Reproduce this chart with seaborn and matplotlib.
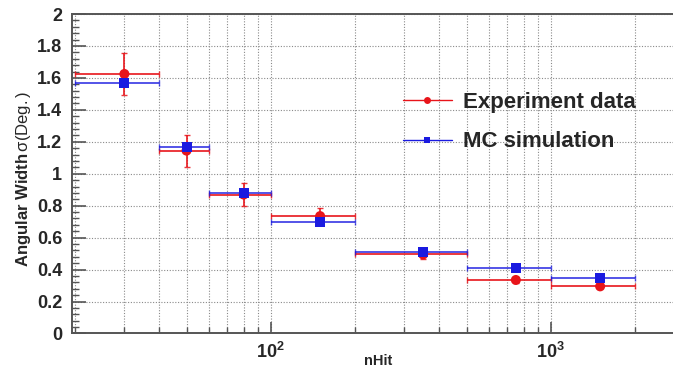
import numpy as np
import pandas as pd
import matplotlib
matplotlib.use("Agg")
import matplotlib.pyplot as plt
import seaborn as sns
from matplotlib.ticker import LogLocator, FixedLocator, FixedFormatter, AutoMinorLocator, NullFormatter
from matplotlib.lines import Line2D

# ---- data ----
bin_lo = [20, 40, 60, 100, 200, 500, 1000]
bin_hi = [40, 60, 100, 200, 500, 1000, 2000]
nhit = [30, 50, 80, 150, 350, 750, 1500]
exp_width = [1.625, 1.145, 0.87, 0.735, 0.495, 0.335, 0.295]
exp_err = [0.13, 0.10, 0.07, 0.05, 0.03, 0.02, 0.01]
mc_width = [1.57, 1.165, 0.88, 0.70, 0.51, 0.41, 0.35]
mc_err = [0.01, 0.01, 0.01, 0.01, 0.01, 0.01, 0.01]
series_names = ["Experiment data", "MC simulation"]
y_ticks = [0, 0.2, 0.4, 0.6, 0.8, 1, 1.2, 1.4, 1.6, 1.8, 2]
y_ticklabels = ["0", "0.2", "0.4", "0.6", "0.8", "1", "1.2", "1.4", "1.6", "1.8", "2"]
x_major = [100, 1000]
x_majorlabels = [r"$\mathbf{10^{2}}$", r"$\mathbf{10^{3}}$"]

df = pd.DataFrame({
    "nHit": nhit * 2,
    "width": exp_width + mc_width,
    "series": [series_names[0]] * len(nhit) + [series_names[1]] * len(nhit),
})

sns.set_theme(style="white")
plt.rcParams["font.family"] = ["Liberation Sans", "DejaVu Sans"]
plt.rcParams["mathtext.fontset"] = "custom"
plt.rcParams["mathtext.rm"] = "Liberation Sans"
plt.rcParams["mathtext.it"] = "Liberation Sans"
plt.rcParams["mathtext.bf"] = "Liberation Sans:bold"

fig = plt.figure(figsize=(6.73, 3.68), dpi=100)
ax = fig.add_axes([72 / 673, 0.0938, 0.910, 0.868])

red = "#e8141a"
blue = "#1a1ae0"

xerr_lo = np.array(nhit) - np.array(bin_lo)
xerr_hi = np.array(bin_hi) - np.array(nhit)

ax.errorbar(nhit, exp_width, xerr=[xerr_lo, xerr_hi], yerr=exp_err, fmt="none",
            ecolor=red, elinewidth=1.4, capsize=2.2, capthick=1.0, alpha=0.85, zorder=3)
ax.errorbar(nhit, mc_width, xerr=[xerr_lo, xerr_hi], yerr=mc_err, fmt="none",
            ecolor=blue, elinewidth=1.4, capsize=2.2, capthick=1.0, alpha=0.75, zorder=4)

sns.scatterplot(data=df, x="nHit", y="width", hue="series", style="series",
                hue_order=series_names, style_order=series_names,
                palette={series_names[0]: red, series_names[1]: blue},
                markers={series_names[0]: "o", series_names[1]: "s"},
                s=52, linewidth=0, legend=False, ax=ax, zorder=5)

ax.set_xscale("log")
ax.set_xlim(19.5, 3000)
ax.set_ylim(0, 2)

ax.xaxis.set_major_locator(FixedLocator(x_major))
ax.xaxis.set_major_formatter(FixedFormatter(x_majorlabels))
ax.xaxis.set_minor_locator(LogLocator(base=10, subs=np.arange(2, 10), numticks=20))
ax.xaxis.set_minor_formatter(NullFormatter())
ax.yaxis.set_major_locator(FixedLocator(y_ticks))
ax.yaxis.set_major_formatter(FixedFormatter(y_ticklabels))
ax.yaxis.set_minor_locator(AutoMinorLocator(5))

grid_kw = dict(color="#8a8a8a", linestyle=(0, (1, 1.5)), linewidth=0.8)
ax.grid(True, which="major", axis="both", **grid_kw)
ax.grid(True, which="minor", axis="x", **grid_kw)
ax.set_axisbelow(True)

for side in ["left", "bottom", "top"]:
    ax.spines[side].set_visible(True)
    ax.spines[side].set_color("#555555")
    ax.spines[side].set_linewidth(1.4)
ax.spines["right"].set_visible(False)

ax.tick_params(axis="y", which="major", direction="in", length=10, width=1.2, color="#555555",
               left=True, labelsize=13, pad=7)
ax.tick_params(axis="y", which="minor", direction="in", length=5, width=1.0, color="#555555", left=True)
ax.tick_params(axis="x", which="major", direction="in", length=8, width=1.2, color="#555555",
               bottom=True, labelsize=13, pad=6)
ax.tick_params(axis="x", which="minor", direction="in", length=4, width=1.0, color="#555555", bottom=True)
for lab in ax.get_yticklabels():
    lab.set_fontweight("bold")

ax.set_xlabel("nHit", fontsize=10.5, fontweight="bold")
ax.xaxis.set_label_coords(0.5, -0.064)
ax.set_ylabel(r"$\mathbf{Angular\ Width}\,\sigma\mathrm{(Deg.)}$", fontsize=12)
ax.yaxis.set_label_coords(-0.064, 0.485)

handles = [
    Line2D([], [], color=red, marker="o", markersize=5, linewidth=1.0, markeredgewidth=0),
    Line2D([], [], color=blue, marker="s", markersize=5, linewidth=1.0, markeredgewidth=0),
]
fig.legend(handles, series_names, loc="center left", bbox_to_anchor=(403 / 673, 1 - 122 / 368),
           frameon=False, borderpad=0, borderaxespad=0, handlelength=2.2, handletextpad=0.5,
           labelspacing=0.85, prop={"weight": "bold", "size": 16})

fig.savefig("out.png", dpi=100)
